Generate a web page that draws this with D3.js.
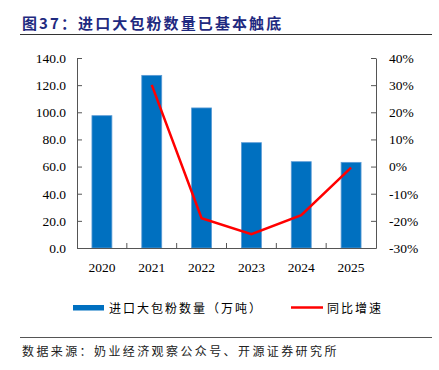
<!DOCTYPE html>
<html>
<head>
<meta charset="utf-8">
<script src="https://cdn.jsdelivr.net/npm/d3@7"></script>
<style>
  body { margin: 0; background: #fff; }
  svg { display: block; }
  .axis text { font-family: "Liberation Serif", "Times New Roman", serif; font-size: 13.5px; fill: #000; }
  .axis path, .axis line { stroke: #555; }
</style>
</head>
<body>
<svg id="chart"></svg>
<script>
// data
const years = ["2020", "2021", "2022", "2023", "2024", "2025"];
const volume = [97.5, 127.2, 103.2, 77.6, 63.6, 63.1]; // 万吨
const yoy = [null, 30.1, -19.0, -24.9, -17.9, -0.4]; // %
const leftTicks = [0, 20, 40, 60, 80, 100, 120, 140];
const rightTicks = [-30, -20, -10, 0, 10, 20, 30, 40];

const W = 439, H = 370;
const margin = { top: 58, right: 63, bottom: 122, left: 77 };
const width = W - margin.left - margin.right;
const height = H - margin.top - margin.bottom;

const svg = d3.select("#chart").attr("width", W).attr("height", H);

// title
svg.append("text")
  .attr("x", 22).attr("y", 29)
  .attr("font-family", "'Noto Sans CJK SC', sans-serif")
  .attr("font-weight", "bold")
  .attr("font-size", 15)
  .attr("letter-spacing", 2.1)
  .attr("fill", "#1f2a80")
  .text("图37：进口大包粉数量已基本触底");

svg.append("line")
  .attr("x1", 20).attr("x2", 432).attr("y1", 34.5).attr("y2", 34.5)
  .attr("stroke", "#333").attr("stroke-width", 1);

const g = svg.append("g").attr("transform", `translate(${margin.left},${margin.top})`);

const x = d3.scaleBand().domain(years).range([0, width]).paddingInner(0).paddingOuter(0);
const yL = d3.scaleLinear().domain([0, 140]).range([height, 0]);
const yR = d3.scaleLinear().domain([-30, 40]).range([height, 0]);

// bars
const barW = x.bandwidth() * 0.4;
g.selectAll(".bar")
  .data(years.map((d, i) => ({ year: d, v: volume[i] })))
  .join("rect")
  .attr("class", "bar")
  .attr("x", d => x(d.year) + (x.bandwidth() - barW) / 2)
  .attr("width", barW)
  .attr("y", d => yL(d.v))
  .attr("height", d => height - yL(d.v))
  .attr("fill", "#0070c0")
  .attr("stroke", "#5b9bd5")
  .attr("stroke-width", 0.8);

// axes
const xAxis = d3.axisBottom(x).tickSizeInner(0).tickSizeOuter(0).tickPadding(14);
const xg = g.append("g").attr("class", "axis").attr("transform", `translate(0,${height})`).call(xAxis);
// category boundary ticks (pointing up)
xg.selectAll(".bound")
  .data(years.slice(1))
  .join("line")
  .attr("class", "bound")
  .attr("x1", d => x(d)).attr("x2", d => x(d))
  .attr("y1", 0).attr("y2", -5)
  .attr("stroke", "#555");

g.append("g").attr("class", "axis")
  .call(d3.axisLeft(yL).tickValues(leftTicks).tickFormat(d3.format(".1f"))
    .tickSizeInner(-5).tickSizeOuter(0).tickPadding(11));

g.append("g").attr("class", "axis").attr("transform", `translate(${width},0)`)
  .call(d3.axisRight(yR).tickValues(rightTicks).tickFormat(d => d + "%")
    .tickSizeInner(-5).tickSizeOuter(0).tickPadding(13));

// yoy line
const line = d3.line()
  .defined(d => d.v !== null)
  .x(d => x(d.year) + x.bandwidth() / 2)
  .y(d => yR(d.v));
g.append("path")
  .datum(years.map((d, i) => ({ year: d, v: yoy[i] })))
  .attr("d", line)
  .attr("fill", "none")
  .attr("stroke", "#ff0000")
  .attr("stroke-width", 2.5);

// legend
const lg = svg.append("g")
  .attr("font-family", "'Noto Sans CJK SC', sans-serif")
  .attr("font-size", 12)
  .attr("fill", "#000");
lg.append("rect").attr("x", 73).attr("y", 305).attr("width", 31).attr("height", 5.5).attr("fill", "#0070c0");
lg.append("text").attr("x", 109).attr("y", 312.5).attr("letter-spacing", 2).text("进口大包粉数量（万吨）");
lg.append("line").attr("x1", 291).attr("x2", 323).attr("y1", 307.5).attr("y2", 307.5)
  .attr("stroke", "#ff0000").attr("stroke-width", 2.5);
lg.append("text").attr("x", 327).attr("y", 312.5).attr("letter-spacing", 2).text("同比增速");

// source
svg.append("line")
  .attr("x1", 20).attr("x2", 432).attr("y1", 337.5).attr("y2", 337.5)
  .attr("stroke", "#555").attr("stroke-width", 1);
svg.append("text")
  .attr("x", 22).attr("y", 356)
  .attr("font-family", "'Noto Sans CJK SC', sans-serif")
  .attr("font-size", 12)
  .attr("letter-spacing", 2.4)
  .attr("fill", "#222")
  .text("数据来源：奶业经济观察公众号、开源证券研究所");
</script>
</body>
</html>
